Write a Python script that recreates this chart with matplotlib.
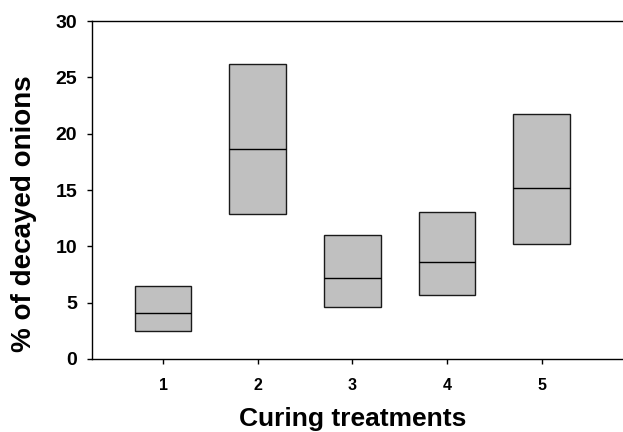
import matplotlib
matplotlib.use("Agg")
import matplotlib.pyplot as plt

plt.rcParams['font.family'] = ['Liberation Sans', 'DejaVu Sans']

treatments = [1, 2, 3, 4, 5]
lower = [2.5, 12.9, 4.65, 5.7, 10.25]
median = [4.05, 18.65, 7.2, 8.65, 15.15]
upper = [6.45, 26.2, 11.0, 13.05, 21.8]

fig = plt.figure(figsize=(6.23, 4.32), dpi=100)
ax = fig.add_axes([0.1477, 0.169, 0.86, 0.782])

# boxes as floating bars + median line
heights = [u - l for u, l in zip(upper, lower)]
ax.bar(treatments, heights, bottom=lower, width=0.6, color='#c0c0c0',
       edgecolor='#1a1a1a', linewidth=1.0, zorder=2)
ax.hlines(median, [t - 0.3 for t in treatments], [t + 0.3 for t in treatments],
          colors='black', linewidth=1.0, zorder=3)

ax.set_xlim(0.25, 5.91)
ax.set_ylim(0, 30)
ax.set_xticks(treatments)
ax.set_yticks(range(0, 31, 5))

for s in ['left', 'bottom', 'top']:
    ax.spines[s].set_linewidth(1.0)
ax.spines['right'].set_visible(False)

ax.tick_params(axis='both', length=3.6, width=1.0)
ax.tick_params(axis='y', labelsize=14, pad=7)
ax.tick_params(axis='x', labelsize=11.5, pad=10)
for lab in ax.get_xticklabels() + ax.get_yticklabels():
    lab.set_fontweight('bold')

ax.set_xlabel('Curing treatments', fontsize=19, fontweight='bold')
ax.set_ylabel('% of decayed onions', fontsize=20, fontweight='bold')
ax.xaxis.set_label_coords(0.486, -0.142)
ax.yaxis.set_label_coords(-0.102, 0.429)

fig.savefig('out.png', dpi=100)
